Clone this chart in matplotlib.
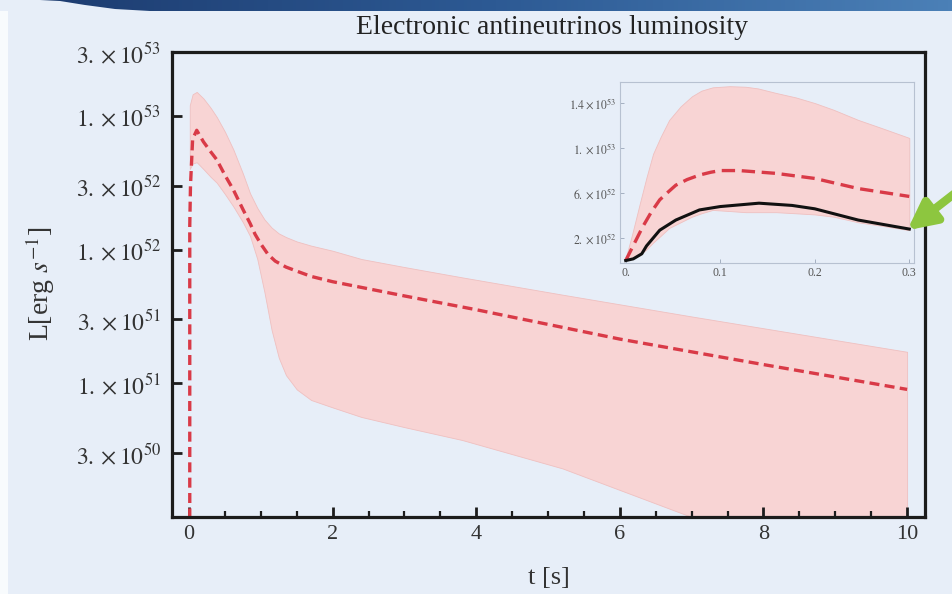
import numpy as np
import matplotlib
matplotlib.use("Agg")
import matplotlib.pyplot as plt
from matplotlib.patches import Polygon, Rectangle, FancyArrowPatch
from matplotlib.colors import LinearSegmentedColormap
from matplotlib.ticker import FixedLocator, FixedFormatter, MultipleLocator, NullLocator

plt.rcParams["font.family"] = ["Liberation Serif", "DejaVu Serif"]
plt.rcParams["mathtext.fontset"] = "stix"

# mean luminosity over the full 10 s (erg/s)
t_mean = [0.0, 0.01, 0.02, 0.05, 0.107, 0.2, 0.3, 0.386, 0.5, 0.617, 0.75, 0.85, 0.92,
          1.0, 1.1, 1.2, 1.35, 1.5, 1.7, 2.0, 3.0, 4.0, 6.0, 8.0, 10.0]
L_mean = [0.0, 1.5e52, 3.0e52, 6.7e52, 7.8e52, 6.4e52, 5.4e52, 4.7e52, 3.6e52, 2.8e52,
          2.0e52, 1.57e52, 1.3e52, 1.1e52, 9.2e51, 8.2e51, 7.4e51, 6.9e51, 6.3e51,
          5.75e51, 4.5e51, 3.55e51, 2.14e51, 1.38e51, 9.0e50]

# uncertainty band
t_band = [0.01, 0.05, 0.107, 0.2, 0.3, 0.386, 0.5, 0.617, 0.75, 0.85, 0.95, 1.05, 1.15,
          1.25, 1.35, 1.5, 1.7, 2.0, 2.4, 3.0, 3.8, 5.2, 7.0, 10.0]
L_band_hi = [1.2e53, 1.45e53, 1.51e53, 1.35e53, 1.15e53, 9.8e52, 7.6e52, 5.6e52, 3.7e52,
             2.63e52, 2.05e52, 1.68e52, 1.46e52, 1.32e52, 1.24e52, 1.15e52, 1.07e52,
             9.8e51, 8.5e51, 7.4e51, 6.2e51, 4.6e51, 3.16e51, 1.72e51]
L_band_lo = [4.0e52, 4.4e52, 4.5e52, 4.0e52, 3.5e52, 3.16e52, 2.6e52, 2.1e52, 1.6e52,
             1.26e52, 8.5e51, 4.8e51, 2.5e51, 1.55e51, 1.15e51, 9.0e50, 7.5e50, 6.6e50,
             5.6e50, 4.7e50, 3.77e50, 2.31e50, 1.0e50, 2.8e49]

ytick_vals = [3e50, 1e51, 3e51, 1e52, 3e52, 1e53, 3e53]
ytick_labels = [r"$3.\times10^{50}$", r"$1.\times10^{51}$", r"$3.\times10^{51}$",
                r"$1.\times10^{52}$", r"$3.\times10^{52}$", r"$1.\times10^{53}$",
                r"$3.\times10^{53}$"]

# zoom on the first 0.3 s (linear scale)
ins_t_mean = [0.0, 0.009, 0.018, 0.027, 0.036, 0.045, 0.053, 0.065, 0.078, 0.09, 0.10,
              0.12, 0.159, 0.20, 0.246, 0.30]
ins_L_mean = [0.0, 1.5e52, 3.0e52, 4.3e52, 5.4e52, 6.1e52, 6.7e52, 7.2e52, 7.6e52,
              7.85e52, 8.0e52, 8.0e52, 7.75e52, 7.3e52, 6.4e52, 5.7e52]

ins_t_sim = [0.0, 0.008, 0.017, 0.022, 0.028, 0.036, 0.053, 0.078, 0.10, 0.141, 0.176,
             0.20, 0.246, 0.30]
ins_L_sim = [0.0, 1.5e51, 6.0e51, 1.3e52, 1.9e52, 2.7e52, 3.6e52, 4.5e52, 4.8e52, 5.1e52,
             4.9e52, 4.6e52, 3.6e52, 2.8e52]

ins_t_band = [0.0, 0.007, 0.015, 0.022, 0.029, 0.037, 0.046, 0.058, 0.07, 0.08, 0.092,
              0.11, 0.127, 0.14, 0.159, 0.18, 0.2, 0.22, 0.246, 0.27, 0.3]
ins_band_hi = [2.0e51, 2.4e52, 5.1e52, 7.4e52, 9.5e52, 1.1e53, 1.25e53, 1.37e53, 1.46e53,
               1.51e53, 1.54e53, 1.55e53, 1.545e53, 1.53e53, 1.49e53, 1.45e53, 1.40e53,
               1.34e53, 1.25e53, 1.18e53, 1.09e53]
ins_band_lo = [0.0, 2.0e51, 5.0e51, 1.0e52, 1.6e52, 2.2e52, 2.9e52, 3.4e52, 3.9e52,
               4.2e52, 4.5e52, 4.4e52, 4.3e52, 4.3e52, 4.3e52, 4.2e52, 4.1e52, 3.9e52,
               3.4e52, 3.1e52, 2.7e52]

ins_xticks = [0.0, 0.1, 0.2, 0.3]
ins_xlabels = ["0.", "0.1", "0.2", "0.3"]
ins_yticks = [2e52, 6e52, 1e53, 1.4e53]
ins_ylabels = [r"$2.\times10^{52}$", r"$6.\times10^{52}$", r"$1.\times10^{53}$",
               r"$1.4\times10^{53}$"]

BG = "#e7eef8"
PINK = "#f8d4d4"
RED = "#d93a47"
INK = "#1c1c1c"
GREEN = "#8dc63f"

fig = plt.figure(figsize=(9.52, 5.94), dpi=100)
fig.patch.set_facecolor(BG)

# slide decoration: header bar and pale left edge
deco = fig.add_axes([0, 0, 1, 1], zorder=-1)
deco.set_xlim(0, 952)
deco.set_ylim(594, 0)
deco.axis("off")
bar_cmap = LinearSegmentedColormap.from_list("bar", ["#1d3c70", "#2d5a94", "#4b80b7"])
grad = np.linspace(0, 1, 256).reshape(1, -1)
im = deco.imshow(grad, extent=[40, 952, 12, 0], cmap=bar_cmap, aspect="auto")
bar = Polygon([(40, 0), (952, 0), (952, 11), (150, 11), (115, 9), (85, 5), (60, 1)],
              closed=True, facecolor="none", edgecolor="none")
deco.add_patch(bar)
im.set_clip_path(bar)
deco.add_patch(Rectangle((0, 11), 8, 583, facecolor="#f8fbfd", edgecolor="none"))

# main panel
ax = fig.add_axes([0.1807, 0.1296, 0.791, 0.7828])
ax.set_facecolor("none")
ax.set_yscale("log")
ax.fill_between(t_band, L_band_lo, L_band_hi, color=PINK, lw=0.6, edgecolor="#efc0c0", zorder=1)
ax.plot(t_mean, L_mean, color=RED, lw=2.4, ls=(0, (3, 1.6)), zorder=2)
ax.set_xlim(-0.237, 10.25)
ax.set_ylim(1e50, 3e53)
ax.yaxis.set_major_locator(FixedLocator(ytick_vals))
ax.yaxis.set_major_formatter(FixedFormatter(ytick_labels))
ax.yaxis.set_minor_locator(NullLocator())
ax.xaxis.set_major_locator(MultipleLocator(2))
ax.xaxis.set_minor_locator(MultipleLocator(0.5))
ax.tick_params(which="both", direction="in", top=False, right=False, color=INK,
               labelcolor="#333333")
ax.tick_params(axis="y", labelsize=17, pad=8)
ax.tick_params(axis="x", labelsize=16, pad=6)
ax.tick_params(which="major", length=7, width=2)
ax.tick_params(which="minor", length=4, width=1.6)
for s in ax.spines.values():
    s.set_linewidth(2.3)
    s.set_color(INK)

fig.text(552 / 952, 1 - 28 / 594, "Electronic antineutrinos luminosity",
         ha="center", va="center", size=20, color="#222222")
fig.text(549 / 952, 1 - 578 / 594, "t [s]", ha="center", va="center", size=19, color="#333333")
fig.text(40 / 952, 1 - 284 / 594, r"L[erg $s^{-1}$]", ha="center", va="center",
         rotation=90, size=20, color="#333333")

# inset: early phase with simulation curve
axi = fig.add_axes([0.6513, 0.5572, 0.3088, 0.3047])
axi.set_facecolor("none")
axi.fill_between(ins_t_band, ins_band_lo, ins_band_hi, color=PINK, lw=0.6,
                 edgecolor="#efc0c0", zorder=1)
axi.plot(ins_t_mean, ins_L_mean, color=RED, lw=2.4, ls=(0, (4, 2)), zorder=2)
axi.plot(ins_t_sim, ins_L_sim, color="#111111", lw=2.2, zorder=3)
axi.set_xlim(-0.006, 0.305)
axi.set_ylim(-2.2e51, 1.587e53)
axi.xaxis.set_major_locator(FixedLocator(ins_xticks))
axi.xaxis.set_major_formatter(FixedFormatter(ins_xlabels))
axi.yaxis.set_major_locator(FixedLocator(ins_yticks))
axi.yaxis.set_major_formatter(FixedFormatter(ins_ylabels))
axi.tick_params(direction="in", length=3, width=0.6, color="#9aa6b8", labelsize=8.5,
                labelcolor="#555555", pad=3, top=False, right=False)
for s in axi.spines.values():
    s.set_linewidth(0.8)
    s.set_color("#b7c1d1")

# pointer to the end of the simulation curve
arrow = FancyArrowPatch((990, 166), (905, 232), transform=deco.transData,
                        arrowstyle="-|>", mutation_scale=42, lw=6, color=GREEN)
fig.add_artist(arrow)

fig.savefig("out.png", dpi=100, facecolor=fig.get_facecolor())
